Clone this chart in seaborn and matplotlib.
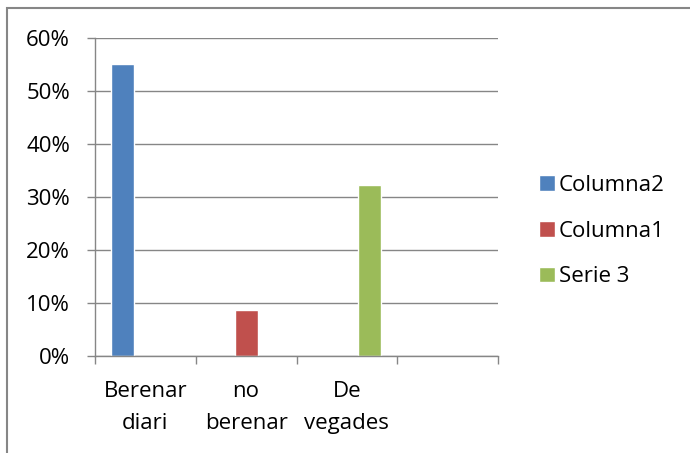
import pandas as pd
import seaborn as sns
import matplotlib.pyplot as plt
from matplotlib.patches import Rectangle

categories = ['Berenar\ndiari', 'no\nberenar', 'De\nvegades', '']
series = ['Columna2', 'Columna1', 'Serie 3']
columna2 = [0.551, None, None, None]
columna1 = [None, 0.087, None, None]
serie3 = [None, None, 0.323, None]
colors = ['#4F81BD', '#C0504D', '#9BBB59']
yticks = [0, 0.1, 0.2, 0.3, 0.4, 0.5, 0.6]

rows = []
for s, vals in zip(series, [columna2, columna1, serie3]):
    for c, v in zip(categories, vals):
        if v is not None:
            rows.append({'cat': c, 'serie': s, 'val': v})
df = pd.DataFrame(rows)

sns.set_style('white')
plt.rcParams['font.family'] = ['Open Sans', 'DejaVu Sans']
plt.rcParams['text.color'] = 'black'
plt.rcParams['xtick.color'] = 'black'
plt.rcParams['ytick.color'] = 'black'

fig = plt.figure(figsize=(6.9, 4.53), dpi=100)
ax = fig.add_axes([95/690, 1-356/453, (498-95)/690, (356-38)/453])

sns.barplot(data=df, x='cat', y='val', hue='serie', order=categories,
            hue_order=series, palette=colors, width=0.685, saturation=1,
            dodge=True, errorbar=None, ax=ax, legend=True)

gray = '#868686'
fs = 16
ax.set_xlim(-0.5, 3.5)
ax.set_ylim(0, 0.6)
ax.set_yticks(yticks)
ax.set_yticklabels([f'{int(round(t*100))}%' for t in yticks])
ax.set_xticks(range(len(categories)))
ax.set_xticklabels(categories, linespacing=1.7)
ax.set_xticks([-0.5, 0.5, 1.5, 2.5, 3.5], minor=True)
ax.set_xlabel('')
ax.set_ylabel('')
ax.grid(axis='y', color=gray, linewidth=1.0)
ax.set_axisbelow(True)
for s in ['top', 'right']:
    ax.spines[s].set_visible(False)
for s in ['left', 'bottom']:
    ax.spines[s].set_color(gray)
    ax.spines[s].set_linewidth(1.0)
ax.tick_params(axis='y', length=6, color=gray, width=1.0, pad=12, labelsize=fs,
               labelcolor='black', left=True)
ax.tick_params(axis='x', which='major', length=0, pad=18, labelsize=fs, labelcolor='black')
ax.tick_params(axis='x', which='minor', length=6, color=gray, width=1.0, bottom=True)

ax.legend_.remove()
handles, labels = ax.get_legend_handles_labels()
fig.legend(handles, labels, loc='center left', bbox_to_anchor=(539/690, 1-231/453),
           frameon=False, fontsize=fs, handlelength=0.7, handleheight=0.7,
           handletextpad=0.2, labelspacing=1.12, borderpad=0, borderaxespad=0)

fig.patches.append(Rectangle((7/690, -0.1), 1.2, 1-8.5/453+0.1, transform=fig.transFigure,
                             fill=False, edgecolor=gray, linewidth=1.5))

fig.savefig('out.png', dpi=100)
